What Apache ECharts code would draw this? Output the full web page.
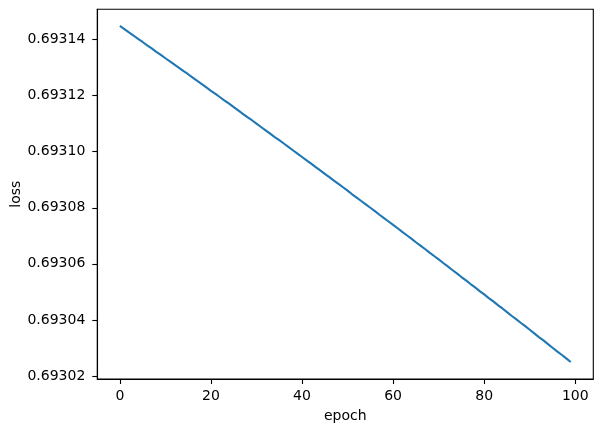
<!DOCTYPE html>
<html>
<head>
<meta charset="utf-8">
<script src="https://cdn.jsdelivr.net/npm/echarts@6/dist/echarts.min.js"></script>
<style>html,body{margin:0;padding:0;background:#fff}#c{width:602px;height:432px}</style>
</head>
<body>
<div id="c"></div>
<script>
const epochs = Array.from({length: 100}, (_, i) => i);
const loss = [
0.6931448,0.6931437,0.6931425,0.6931414,0.6931402,0.6931391,0.6931379,0.6931368,0.6931356,0.6931345,
0.6931333,0.6931322,0.6931310,0.6931299,0.6931287,0.6931276,0.6931264,0.6931252,0.6931241,0.6931229,
0.6931217,0.6931206,0.6931194,0.6931182,0.6931171,0.6931159,0.6931147,0.6931135,0.6931123,0.6931112,
0.6931100,0.6931088,0.6931076,0.6931064,0.6931052,0.6931041,0.6931029,0.6931017,0.6931005,0.6930993,
0.6930981,0.6930969,0.6930957,0.6930945,0.6930933,0.6930921,0.6930909,0.6930897,0.6930885,0.6930873,
0.6930861,0.6930848,0.6930836,0.6930824,0.6930812,0.6930800,0.6930788,0.6930775,0.6930763,0.6930751,
0.6930739,0.6930727,0.6930714,0.6930702,0.6930690,0.6930677,0.6930665,0.6930653,0.6930640,0.6930628,
0.6930616,0.6930603,0.6930591,0.6930578,0.6930566,0.6930553,0.6930541,0.6930528,0.6930516,0.6930503,
0.6930491,0.6930478,0.6930466,0.6930453,0.6930441,0.6930428,0.6930415,0.6930403,0.6930390,0.6930378,
0.6930365,0.6930352,0.6930339,0.6930327,0.6930314,0.6930301,0.6930288,0.6930276,0.6930263,0.6930250
];
const xTicks = [0, 20, 40, 60, 80, 100];
const yTicks = [0.69302, 0.69304, 0.69306, 0.69308, 0.69310, 0.69312, 0.69314];
const xLabel = 'epoch';
const yLabel = 'loss';

const chart = echarts.init(document.getElementById('c'), null, {renderer: 'canvas'});
const font = 'DejaVu Sans';
chart.setOption({
  animation: false,
  backgroundColor: '#ffffff',
  grid: {left: 97.3, top: 9.3, right: 8.7, bottom: 53, containLabel: false, outerBoundsMode: 'none', show: true, borderColor: '#000', borderWidth: 1.1},
  xAxis: {
    type: 'value', min: -4.95, max: 103.95,
    name: xLabel, nameLocation: 'middle', nameGap: 30, nameMoveOverlap: false,
    nameTextStyle: {fontFamily: font, fontSize: 14, color: '#000'},
    axisLine: {show: true, onZero: false, lineStyle: {color: '#000', width: 1.1}},
    axisTick: {show: true, inside: false, length: 5, lineStyle: {color: '#000', width: 1.1}, customValues: xTicks},
    axisLabel: {fontFamily: font, fontSize: 14, color: '#000', margin: 10, customValues: xTicks, formatter: v => String(v)},
    splitLine: {show: false}
  },
  yAxis: {
    type: 'value', min: 0.69301895, max: 0.69315075,
    name: yLabel, nameLocation: 'middle', nameGap: 74, nameRotate: 90, nameMoveOverlap: false,
    nameTextStyle: {fontFamily: font, fontSize: 14, color: '#000'},
    axisLine: {show: true, onZero: false, lineStyle: {color: '#000', width: 1.1}},
    axisTick: {show: true, inside: false, length: 5, lineStyle: {color: '#000', width: 1.1}, customValues: yTicks},
    axisLabel: {fontFamily: font, fontSize: 14, color: '#000', margin: 12, customValues: yTicks, formatter: v => v.toFixed(5)},
    splitLine: {show: false}
  },
  series: [{
    type: 'line',
    data: epochs.map((e, i) => [e, loss[i]]),
    showSymbol: false,
    symbol: 'none',
    lineStyle: {color: '#1f77b4', width: 2.1},
    clip: true
  }]
});
</script>
</body>
</html>
